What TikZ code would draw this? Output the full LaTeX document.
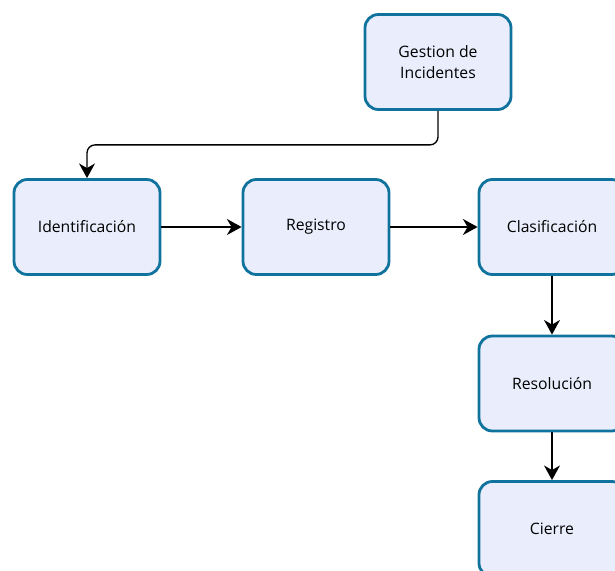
\documentclass[tikz,border=0pt]{standalone}
\usepackage{fontspec}
\setmainfont{Open Sans}
\usepackage{xcolor}
\usepackage{tikz}
\usetikzlibrary{shapes,arrows.meta}

\definecolor{boxfill}{HTML}{EAEEFC}
\definecolor{boxline}{HTML}{10739E}

\tikzset{
  paso/.style={draw=boxline, fill=boxfill, line width=2.1pt, rounded corners=10pt,
    minimum width=146*0.75pt, minimum height=95*0.75pt, inner sep=0pt,
    align=center, font=\fontsize{11.8}{15.5}\selectfont},
  flecha/.style={draw, line width=1pt, -{Stealth[length=11pt,width=12pt,inset=3.5pt]}}
}

\begin{document}
\begin{tikzpicture}[x=0.75pt,y=0.75pt,yscale=-1,xscale=1]
        \clip (0,0) rectangle (615,571);

        \node [paso] (gestion) at (438,62) {Gestion de\\Incidentes};
        \node [paso] (ident) at (87,227) {Identificación};
        \node [paso] (registro) at (316,227) {Registro};
        \node [paso] (clasif) at (552,227) {Clasificación};
        \node [paso] (resol) at (552,383.5) {Resolución};
        \node [paso] (cierre) at (552,529) {Cierre};

        \draw [flecha, rounded corners=6pt] (gestion.south) -- ++(0,34) -| (ident.north);
        \draw [flecha] (ident) -- (registro);
        \draw [flecha] (registro) -- (clasif);
        \draw [flecha] (clasif) -- (resol);
        \draw [flecha] (resol) -- (cierre);
\end{tikzpicture}
\end{document}
